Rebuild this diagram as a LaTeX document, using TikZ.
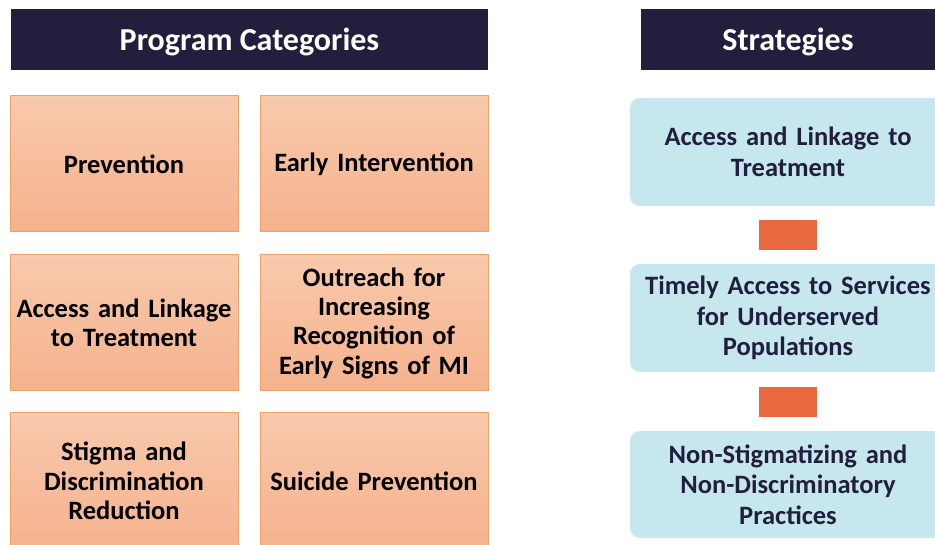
\documentclass[tikz,border=0pt]{standalone}
\usepackage{fontspec}
\setmainfont{Carlito}
\definecolor{navy}{HTML}{221E3D}
\definecolor{orTop}{HTML}{F8C9AC}
\definecolor{orBot}{HTML}{F5B28D}
\definecolor{orLine}{HTML}{F0A262}
\definecolor{sky}{HTML}{C5E7ED}
\definecolor{brick}{HTML}{E8683F}
\begin{document}
\begin{tikzpicture}[x=1pt,y=-1pt,
  header/.style={fill=navy, text=white, inner sep=0pt, text depth=0pt, font=\fontsize{32}{38}\selectfont\bfseries},
  catbox/.style={top color=orTop, bottom color=orBot, draw=orLine, line width=1pt,
    minimum width=228pt, minimum height=136pt, inner sep=0pt, align=center, text width=224pt,
    font=\fontsize{26.5}{29.3}\selectfont\bfseries, text=black},
  stratbox/.style={fill=sky, rounded corners=10pt, minimum width=316pt, inner sep=0pt,
    align=center, text width=312pt, font=\fontsize{26.5}{30.5}\selectfont\bfseries, text=navy},
  link/.style={fill=brick, minimum width=58pt, minimum height=30pt, inner sep=0pt}]
\useasboundingbox (0,0) rectangle (935,545);
\clip (0,0) rectangle (935,545);
\fill[white] (0,0) rectangle (935,545);
% headers
\node[header, minimum width=477pt, minimum height=61pt] (hcat) at (249.5,39.5) {Program Categories};
\node[header, minimum width=294pt, minimum height=61pt] (hstr) at (788,39.5) {Strategies};
% category boxes
\node[catbox] (prev) at (124,164) {Prevention};
\node[catbox] (early) at (374,164) {Early Intervention};
\node[catbox] (access) at (124,323) {Access and Linkage\\to Treatment};
\node[catbox] (outreach) at (374,323) {Outreach for\\Increasing\\Recognition of\\Early Signs of MI};
\node[catbox] (stigma) at (124,481) {Stigma and\\Discrimination\\Reduction};
\node[catbox] (suicide) at (374,481) {Suicide Prevention};
% strategies
\node[stratbox, minimum height=108pt] (s1) at (788,152) {Access and Linkage to\\Treatment};
\node[stratbox, minimum height=108pt] (s2) at (788,318) {Timely Access to Services\\for Underserved\\Populations};
\node[stratbox, minimum height=107pt] (s3) at (788,484.5) {Non-Stigmatizing and\\Non-Discriminatory\\Practices};
\node[link] (l1) at (788,235) {};
\node[link] (l2) at (788,402) {};
\end{tikzpicture}
\end{document}
